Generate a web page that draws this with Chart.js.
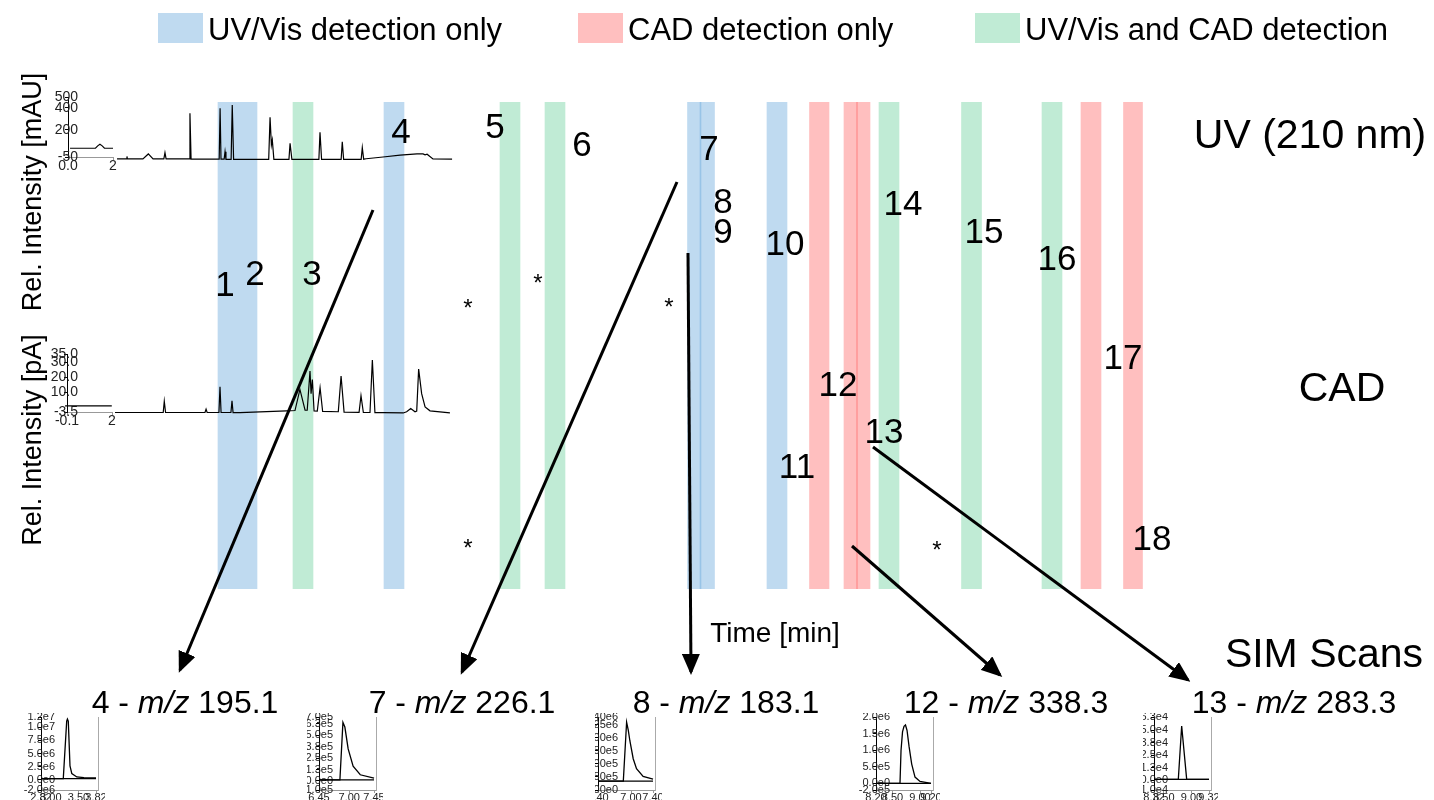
<!DOCTYPE html>
<html>
<head>
<meta charset="utf-8">
<title>UV / CAD / SIM</title>
<script src="https://cdn.jsdelivr.net/npm/chart.js@4.4.1/dist/chart.umd.min.js"></script>
<style>
  html, body { margin: 0; padding: 0; background: #fff; }
  body { position: relative; width: 1434px; height: 800px; overflow: hidden;
         font-family: "Liberation Sans", Arial, sans-serif; color: #000; }
  canvas, .box, .txt, .clip, svg { position: absolute; }
  .txt { transform: translate(-50%, -50%); white-space: nowrap; line-height: 1; }
  .num { font-size: 35px; }
  .star { font-size: 24px; }
  .big { font-size: 41px; }
  .leg { font-size: 31px; transform: translate(0, -50%); }
  .rot { font-size: 27px; transform: translate(-50%, -50%) rotate(-90deg); }
  .simt { font-size: 32px; }
  .clip { overflow: hidden; }
</style>
</head>
<body>
<script>
Chart.defaults.font.family = '"Liberation Sans", Arial, sans-serif';
Chart.defaults.color = '#222';

// detection windows on the time axis (min)
const bandStart = [2.18, 2.93, 3.84, 5.00, 5.45, 6.875, 7.00, 7.67, 8.095, 8.44, 8.565, 8.79, 9.615, 10.42, 10.81, 11.235];
const bandEnd   = [2.57, 3.13, 4.04, 5.20, 5.65, 7.01, 7.145, 7.87, 8.29, 8.575, 8.70, 8.99, 9.815, 10.62, 11.01, 11.425];
const bandKind  = ['uv', 'both', 'uv', 'both', 'both', 'uv', 'uv', 'uv', 'cad', 'cad', 'cad', 'both', 'both', 'both', 'cad', 'cad'];

// UV trace (210 nm), mAU
const uvTime   = [2.18, 2.60, 2.62, 2.64, 3.33, 3.57, 3.78, 4.26, 4.31, 4.36, 5.38, 5.42, 5.47, 6.72, 6.76, 6.80, 6.94, 6.98, 7.02, 7.25, 7.30, 7.36, 8.92, 8.98, 9.04, 9.08, 9.15, 9.82, 9.87, 9.95, 11.15, 11.20, 11.27, 12.14, 12.19, 12.25, 13.03, 13.08, 13.14, 13.25, 14.00, 14.76, 15.51, 15.78, 15.87, 15.96, 16.22, 17.07];
const uvSignal = [-68, -68, -45, -68, -68, -22, -68, -68, -10, -68, -68, 350, -70, -70, 396, -70, -70, -1, -72, -72, 427, -72, -72, 314, 60, 106, -72, -72, 76, -72, -72, 176, -72, -72, 90, -72, -72, 35, -70, -66, -50, -32, -22, -22, -30, -25, -68, -70];
const uvInsetTime   = [0.09, 1.22, 1.32, 1.42, 1.52, 1.62, 2.0];
const uvInsetSignal = [30, 30, 52, 66, 52, 30, 30];
const uvTicksY = [-50, 200, 400, 500];
const uvLabelsY = ['-50', '200', '400', '500'];
const uvTicksX = [0, 2];
const uvLabelsX = ['0.0', '2'];

// CAD trace, pA
const cadTime   = [2.14, 4.39, 4.44, 4.50, 6.34, 6.39, 6.44, 6.99, 7.04, 7.09, 7.55, 7.60, 7.65, 7.97, 10.15, 10.54, 10.77, 11.01, 11.11, 11.24, 11.29, 11.35, 11.43, 11.58, 11.71, 11.83, 12.56, 12.69, 12.83, 13.53, 13.62, 13.73, 14.04, 14.15, 14.27, 14.66, 15.59, 15.75, 15.94, 16.14, 16.22, 16.31, 16.45, 16.61, 16.84, 17.77];
const cadSignal = [-3.5, -3.5, 4.0, -3.5, -3.5, -1.3, -3.5, -3.5, 13.6, -3.5, -3.5, 4.2, -3.6, -3.6, -2.4, -2.2, 11.8, -2.0, -2.0, 24.0, 9.0, 18.4, -2.5, -2.6, 12.9, -2.8, -3.0, 20.7, -3.2, -3.4, 7.6, -3.5, -3.5, 31.3, -3.6, -3.6, -3.8, -3.0, -0.9, -3.0, -2.5, 25.3, 9.0, 0.2, -2.4, -3.8];
const cadInsetTime   = [-0.19, 1.99];
const cadInsetSignal = [0.9, 0.9];
const cadTicksY = [-3.5, 10, 20, 30, 35];
const cadLabelsY = ['-3.5', '10.0', '20.0', '30.0', '35.0'];
const cadTicksX = [-0.1, 2];
const cadLabelsX = ['-0.1', '2'];

// SIM scans
const sim4Time   = [2.82, 3.225, 3.287, 3.30, 3.316, 3.347, 3.38, 3.47, 3.60, 3.82];
const sim4Signal = [1.9e5, 1.9e5, 1.12e7, 1.16e7, 1.12e7, 2.6e6, 1.15e6, 5.0e5, 3.8e5, 3.3e5];
const sim4Base   = [1.9e5, 1.9e5];
const sim4TicksY = [-2e6, 0, 2.5e6, 5e6, 7.5e6, 1e7, 1.2e7];
const sim4LabelsY = ['-2.0e6', '0.0e0', '2.5e6', '5.0e6', '7.5e6', '1.0e7', '1.2e7'];
const sim4TicksX = [2.82, 3.00, 3.50, 3.82];

const sim7Time   = [6.45, 6.83, 6.885, 6.92, 6.98, 7.07, 7.20, 7.45];
const sim7Signal = [1.1e4, 1.1e4, 6.4e5, 5.9e5, 3.5e5, 1.6e5, 6.7e4, 3.0e4];
const sim7Base   = [1.1e4, 1.1e4];
const sim7TicksY = [-1e5, 0, 1.25e5, 2.5e5, 3.75e5, 5e5, 6.25e5, 7e5];
const sim7LabelsY = ['-1.0e5', '0.0e0', '1.3e5', '2.5e5', '3.8e5', '5.0e5', '6.3e5', '7.0e5'];
const sim7TicksX = [6.45, 7.00, 7.45];

const sim8Time   = [6.40, 6.86, 6.92, 6.95, 6.98, 7.04, 7.10, 7.22, 7.40];
const sim8Signal = [1.7e5, 1.7e5, 1.30e6, 1.15e6, 9.4e5, 6.0e5, 4.1e5, 2.6e5, 2.1e5];
const sim8Base   = [1.7e5, 1.7e5];
const sim8TicksY = [0, 2.5e5, 5e5, 7.5e5, 1e6, 1.25e6, 1.4e6];
const sim8LabelsY = ['0.00e0', '2.50e5', '5.00e5', '7.50e5', '1.00e6', '1.25e6', '1.40e6'];
const sim8TicksX = [6.40, 7.00, 7.40];

const sim12Time   = [8.20, 8.636, 8.655, 8.682, 8.709, 8.736, 8.764, 8.80, 8.849, 8.909, 9.00, 9.20];
const sim12Signal = [0, 0, 1.0e6, 1.55e6, 1.72e6, 1.76e6, 1.6e6, 1.12e6, 5.8e5, 1.9e5, 6e4, 0];
const sim12Base   = [0, 0];
const sim12TicksY = [-2e5, 0, 5e5, 1e6, 1.5e6, 2e6];
const sim12LabelsY = ['-2.0e5', '0.0e0', '5.0e5', '1.0e6', '1.5e6', '2.0e6'];
const sim12TicksX = [8.20, 8.50, 9.00, 9.20];

const sim13Time   = [8.32, 8.762, 8.823, 8.914, 9.32];
const sim13Signal = [700, 700, 5.4e4, 700, 700];
const sim13Base   = [700, 700];
const sim13TicksY = [-1e4, 0, 1.25e4, 2.5e4, 3.75e4, 5e4, 6.3e4];
const sim13LabelsY = ['-1.0e4', '0.0e0', '1.3e4', '2.5e4', '3.8e4', '5.0e4', '6.3e4'];
const sim13TicksX = [8.32, 8.50, 9.00, 9.32];

const colors = {
  uv: 'rgba(95,162,217,0.4)',
  cad: 'rgba(255,95,95,0.4)',
  both: 'rgba(97,205,150,0.4)'
};

const stage = document.body;
const measure = document.createElement('canvas').getContext('2d');

function widest(labels, size) {
  measure.font = size + 'px "Liberation Sans", Arial, sans-serif';
  return Math.max(...labels.map(l => measure.measureText(l).width));
}

function addCanvas(parent, left, top, w, h) {
  const c = document.createElement('canvas');
  c.width = w; c.height = h;
  c.style.left = left + 'px';
  c.style.top = top + 'px';
  c.style.width = w + 'px';
  c.style.height = h + 'px';
  parent.appendChild(c);
  return c;
}

// ---- detection bands
new Chart(addCanvas(stage, 0, 102, 1434, 487), {
  type: 'bar',
  data: {
    labels: ['bands'],
    datasets: bandStart.map((s, i) => ({
      data: [[s, bandEnd[i]]],
      backgroundColor: colors[bandKind[i]],
      borderWidth: 0
    }))
  },
  options: {
    indexAxis: 'y',
    responsive: false, animation: false, events: [],
    datasets: { bar: { grouped: false, barPercentage: 1, categoryPercentage: 1 } },
    plugins: { legend: { display: false }, tooltip: { enabled: false } },
    layout: { padding: 0 },
    scales: {
      x: { type: 'linear', min: 0, max: 14.34, display: false },
      y: { display: false }
    }
  }
});

// ---- small trace chart (chromatograms and SIM scans)
// y labels are drawn over the axis line, right edge at labelRight px past it
function traceChart(canvas, o) {
  const w = widest(o.yLabels, o.fontSize);
  const scales = {
    x: {
      type: 'linear', bounds: 'data',
      afterDataLimits: s => { s.min = o.xRange[0]; s.max = o.xRange[1]; },
      afterBuildTicks: s => { s.ticks = o.xTicks.map(v => ({ value: v })); },
      afterFit: s => { s.height = o.xAxisHeight; },
      ticks: {
        autoSkip: false, maxRotation: 0, minRotation: 0, padding: o.xPad,
        font: { size: o.fontSize }, color: '#222',
        callback: (v, i) => o.xLabels[i]
      },
      grid: { drawOnChartArea: false, tickLength: 3, color: '#999' },
      border: { color: '#999', width: 1 }
    },
    y: {
      bounds: 'data', min: o.yRange[0], max: o.yRange[1],
      afterBuildTicks: s => { s.ticks = o.yTicks.map(v => ({ value: v })); },
      afterFit: s => { s.width = o.yAxisWidth; },
      ticks: {
        autoSkip: false, mirror: true, crossAlign: 'far',
        padding: o.labelRight - w,
        font: { size: o.fontSize }, color: '#222',
        callback: (v, i) => o.yLabels[i]
      },
      grid: { drawOnChartArea: false, tickLength: 3, color: '#000' },
      border: { color: '#000', width: 1 }
    }
  };
  if (o.rightBorder) {
    scales.y2 = {
      position: 'right', min: 0, max: 1,
      afterFit: s => { s.width = 0; },
      ticks: { display: false },
      grid: { drawOnChartArea: false, drawTicks: false },
      border: { color: '#aaa', width: 1 }
    };
  }
  return new Chart(canvas, {
    type: 'line',
    data: {
      datasets: o.series.map(s => ({
        data: s[0].map((t, i) => ({ x: t, y: s[1][i] })),
        borderColor: '#000', borderWidth: o.lineWidth,
        pointRadius: 0, fill: false, tension: 0, clip: false
      }))
    },
    options: {
      responsive: false, animation: false, events: [],
      layout: { padding: o.padding },
      plugins: { legend: { display: false }, tooltip: { enabled: false } },
      scales
    }
  });
}

// UV (210 nm)
traceChart(addCanvas(stage, 40, 88, 430, 82), {
  series: [[uvInsetTime, uvInsetSignal], [uvTime, uvSignal]],
  xRange: [0, 2], xTicks: uvTicksX, xLabels: uvLabelsX,
  yRange: [-50, 500], yTicks: uvTicksY, yLabels: uvLabelsY,
  padding: { top: 9, right: 357, left: 0, bottom: 0 },
  xAxisHeight: 13, yAxisWidth: 28, xPad: -2, labelRight: 10,
  fontSize: 14, lineWidth: 1.2
});

// CAD
traceChart(addCanvas(stage, 40, 345, 430, 80), {
  series: [[cadInsetTime, cadInsetSignal], [cadTime, cadSignal]],
  xRange: [-0.1, 2], xTicks: cadTicksX, xLabels: cadLabelsX,
  yRange: [-3.5, 35], yTicks: cadTicksY, yLabels: cadLabelsY,
  padding: { top: 9.5, right: 358, left: 0, bottom: 0 },
  xAxisHeight: 12.5, yAxisWidth: 27, xPad: -3, labelRight: 11,
  fontSize: 14, lineWidth: 1.2
});

// SIM scans
const sims = [
  { x0: 41,   clip: 11,   lr: 14, t: sim4Time,  v: sim4Signal,  b: sim4Base,  yt: sim4TicksY,  yl: sim4LabelsY,  xt: sim4TicksX,  y: [-2e6, 1.2e7] },
  { x0: 319,  clip: 307,  lr: 14, t: sim7Time,  v: sim7Signal,  b: sim7Base,  yt: sim7TicksY,  yl: sim7LabelsY,  xt: sim7TicksX,  y: [-1e5, 7e5] },
  { x0: 598,  clip: 595,  lr: 20, t: sim8Time,  v: sim8Signal,  b: sim8Base,  yt: sim8TicksY,  yl: sim8LabelsY,  xt: sim8TicksX,  y: [0, 1.4e6] },
  { x0: 876,  clip: 846,  lr: 14, t: sim12Time, v: sim12Signal, b: sim12Base, yt: sim12TicksY, yl: sim12LabelsY, xt: sim12TicksX, y: [-2e5, 2e6] },
  { x0: 1154, clip: 1143, lr: 14, t: sim13Time, v: sim13Signal, b: sim13Base, yt: sim13TicksY, yl: sim13LabelsY, xt: sim13TicksX, y: [-1e4, 6.3e4] }
];
sims.forEach(s => {
  const wrap = document.createElement('div');
  wrap.className = 'clip';
  wrap.style.left = s.clip + 'px';
  wrap.style.top = '713px';
  wrap.style.width = (s.x0 + 64 - s.clip) + 'px';
  wrap.style.height = '87px';
  stage.appendChild(wrap);
  const x0 = s.xt[0];
  traceChart(addCanvas(wrap, s.x0 - 30 - s.clip, -6, 95, 95), {
    series: [[[x0, s.t[s.t.length - 1]], s.b], [s.t, s.v]],
    xRange: [x0, x0 + 1.036], xTicks: s.xt, xLabels: s.xt.map(v => v.toFixed(2)),
    yRange: s.y, yTicks: s.yt, yLabels: s.yl,
    padding: { top: 10, right: 8, left: 0, bottom: 0 },
    xAxisHeight: 12, yAxisWidth: 30, xPad: -2, labelRight: s.lr,
    fontSize: 11, lineWidth: 1.3, rightBorder: true
  });
});

// ---- arrows
const arrows = [[373, 210, 180, 670], [677, 182, 462, 672], [688, 253, 691, 672], [852, 546, 1000, 675], [873, 447, 1188, 680]];
const NS = 'http://www.w3.org/2000/svg';
const svg = document.createElementNS(NS, 'svg');
svg.setAttribute('width', 1434); svg.setAttribute('height', 800);
svg.style.left = '0px'; svg.style.top = '0px';
svg.innerHTML = '<defs><marker id="ah" markerWidth="7" markerHeight="6" refX="6" refY="3" orient="auto" markerUnits="strokeWidth"><path d="M0,0 L7,3 L0,6 z" fill="#000"/></marker></defs>';
arrows.forEach(a => {
  const l = document.createElementNS(NS, 'line');
  l.setAttribute('x1', a[0]); l.setAttribute('y1', a[1]);
  l.setAttribute('x2', a[2]); l.setAttribute('y2', a[3]);
  l.setAttribute('stroke', '#000'); l.setAttribute('stroke-width', 3);
  l.setAttribute('marker-end', 'url(#ah)');
  svg.appendChild(l);
});
stage.appendChild(svg);

// ---- text
function text(cls, x, y, html) {
  const d = document.createElement('div');
  d.className = 'txt ' + cls;
  d.style.left = x + 'px';
  d.style.top = y + 'px';
  d.innerHTML = html;
  stage.appendChild(d);
  return d;
}

// legend
[['uv', 158, 'UV/Vis detection only'], ['cad', 578, 'CAD detection only'], ['both', 975, 'UV/Vis and CAD detection']].forEach(l => {
  const b = document.createElement('div');
  b.className = 'box';
  b.style.cssText = 'left:' + l[1] + 'px;top:13px;width:45px;height:30px;background:' + colors[l[0]];
  stage.appendChild(b);
  text('leg', l[1] + 50, 29, l[2]);
});

text('rot', 32, 192, 'Rel. Intensity [mAU]');
text('rot', 32, 440, 'Rel. Intensity [pA]');
text('big', 1310, 134, 'UV (210 nm)');
text('big', 1342, 387, 'CAD');
text('big', 1324, 653, 'SIM Scans');
text('', 775, 633, 'Time [min]').style.fontSize = '28px';

const peakLabels = [
  ['1', 225, 283], ['2', 255, 272], ['3', 312, 272], ['4', 401, 130], ['5', 495, 125], ['6', 582, 143],
  ['7', 709, 147], ['8', 723, 200], ['9', 723, 230], ['10', 785, 242], ['11', 797, 465], ['12', 838, 383],
  ['13', 884, 430], ['14', 903, 202], ['15', 984, 230], ['16', 1057, 257], ['17', 1123, 356], ['18', 1152, 537]
];
peakLabels.forEach(p => text('num', p[1], p[2], p[0]));
[[468, 303], [538, 278], [669, 302], [468, 543], [937, 545]].forEach(p => text('star', p[0], p[1] + 5, '*'));

[['4', '195.1', 185], ['7', '226.1', 462], ['8', '183.1', 726], ['12', '338.3', 1006], ['13', '283.3', 1294]].forEach(t => {
  text('simt', t[2], 702, t[0] + ' - <i>m/z</i> ' + t[1]);
});
</script>
</body>
</html>
